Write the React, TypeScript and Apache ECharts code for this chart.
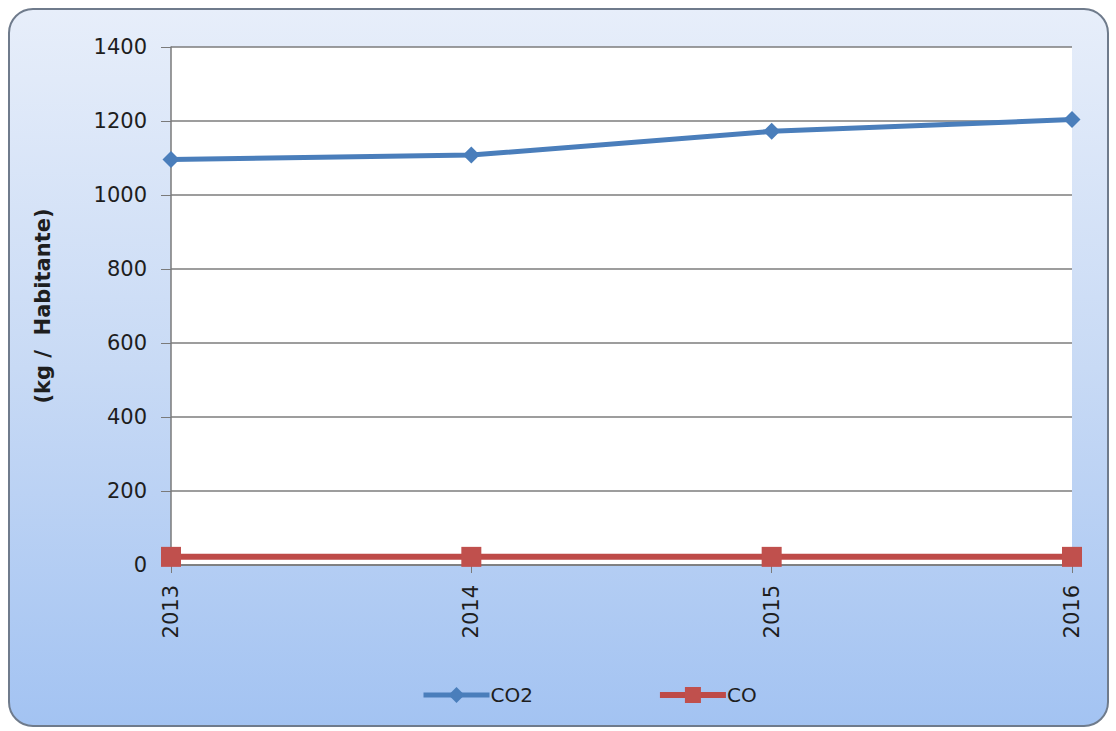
import React, { useEffect, useRef } from "react";
import * as echarts from "echarts";

// Yearly emissions per inhabitant (kg / Habitante)
const years = ["2013", "2014", "2015", "2016"];
const co2Values = [1096, 1108, 1172, 1204];
const coValues = [22, 22, 22, 22];

const yMin = 0;
const yMax = 1400;
const yStep = 200;

const FONT = "DejaVu Sans";
const TEXT = "#1e1e1e";
const BLUE = "#4a7ebb";
const RED = "#be4b48";

export default function App() {
  const ref = useRef<HTMLDivElement>(null);

  useEffect(() => {
    if (!ref.current) return;
    const chart = echarts.init(ref.current, null, { renderer: "svg" });
    chart.setOption({
      animation: false,
      backgroundColor: "#ffffff",
      graphic: [
        {
          type: "rect",
          z: -10,
          silent: true,
          shape: { x: 9, y: 9, width: 1099, height: 717, r: 24 },
          style: {
            fill: new echarts.graphic.LinearGradient(0, 0, 0, 1, [
              { offset: 0, color: "#e7eefa" },
              { offset: 0.5, color: "#c8daf5" },
              { offset: 1, color: "#a3c3f2" },
            ]),
            stroke: "#6f7b8c",
            lineWidth: 2,
          },
        },
      ],
      grid: {
        left: 171,
        right: 44,
        top: 47,
        bottom: 166,
        show: true,
        backgroundColor: "#ffffff",
        borderWidth: 0,
      },
      legend: {
        bottom: 21,
        left: 416,
        itemGap: 124,
        itemWidth: 66,
        itemHeight: 20,
        textStyle: { fontFamily: FONT, fontSize: 20, color: TEXT, padding: [0, 0, 0, -4] },
        data: [
          { name: "CO2", lineStyle: { width: 5, color: BLUE } },
          { name: "CO", lineStyle: { width: 6, color: RED } },
        ],
      },
      xAxis: {
        type: "category",
        data: years,
        boundaryGap: false,
        axisLine: { show: true, lineStyle: { color: "#7a7a7a", width: 1.5 } },
        axisTick: { show: true, length: 8, lineStyle: { color: "#7a7a7a" } },
        axisLabel: {
          rotate: 90,
          margin: 20,
          fontFamily: FONT,
          fontSize: 21,
          color: TEXT,
        },
        splitLine: { show: false },
      },
      yAxis: {
        type: "value",
        min: yMin,
        max: yMax,
        interval: yStep,
        name: "(kg /  Habitante)",
        nameLocation: "middle",
        nameGap: 118,
        nameRotate: 90,
        nameTextStyle: {
          fontFamily: FONT,
          fontSize: 21,
          fontWeight: "bold",
          color: TEXT,
        },
        axisLine: { show: true, lineStyle: { color: "#7a7a7a", width: 1.5 } },
        axisTick: { show: true, inside: false, length: 10, lineStyle: { color: "#7a7a7a" } },
        axisLabel: {
          margin: 24,
          fontFamily: FONT,
          fontSize: 21,
          color: TEXT,
          formatter: (v: number) => String(v),
        },
        splitLine: { show: true, lineStyle: { color: "#7d7d7d", width: 1.5 } },
      },
      series: [
        {
          name: "CO2",
          type: "line",
          data: co2Values,
          symbol: "diamond",
          symbolSize: 17,
          lineStyle: { color: BLUE, width: 5 },
          itemStyle: { color: BLUE },
        },
        {
          name: "CO",
          type: "line",
          data: coValues,
          symbol: "rect",
          symbolSize: 20,
          lineStyle: { color: RED, width: 6 },
          itemStyle: { color: "#c0504d" },
        },
      ],
    });
    return () => chart.dispose();
  }, []);

  return (
    <div
      ref={ref}
      style={{ position: "fixed", left: 0, top: 0, width: 1116, height: 731 }}
    />
  );
}
